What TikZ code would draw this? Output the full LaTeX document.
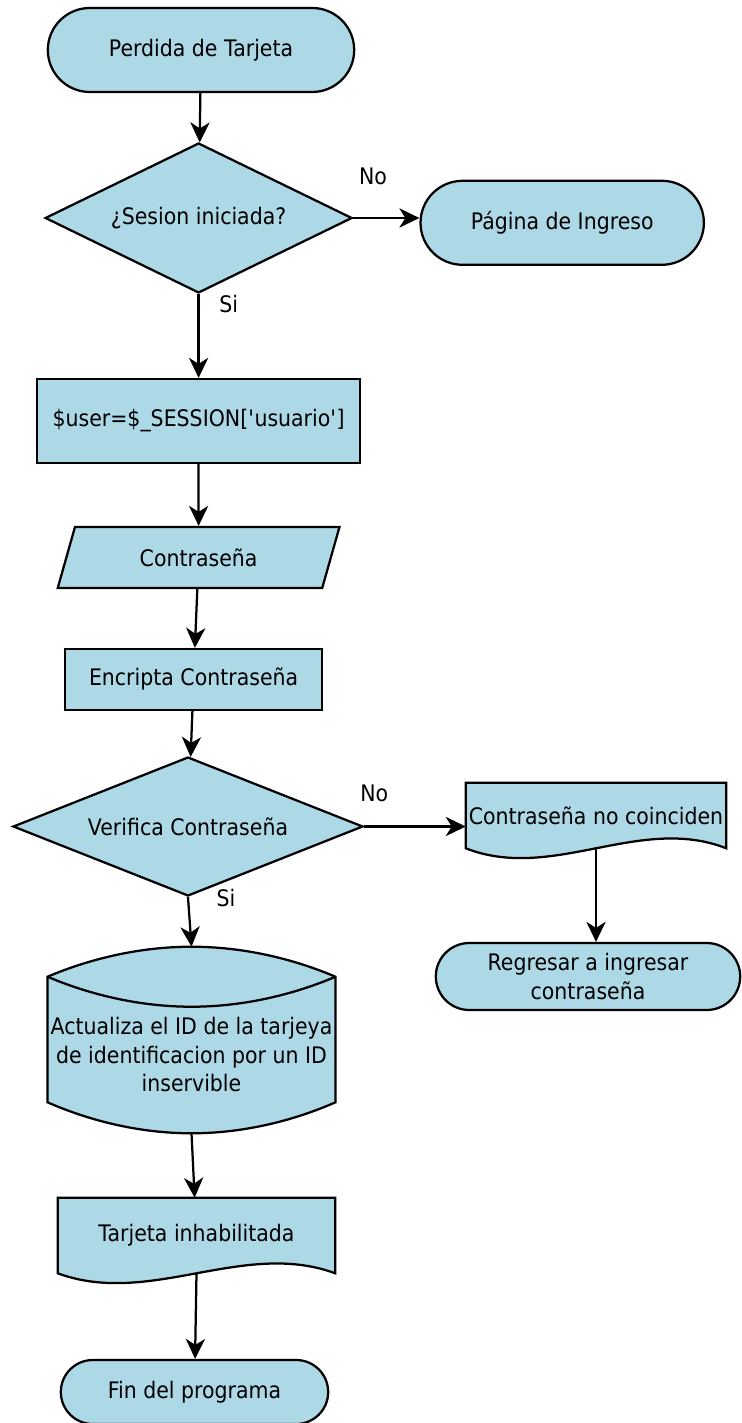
\documentclass[tikz,border=0pt]{standalone}
\usepackage{fontspec}
\setmainfont{DejaVu Sans}[FakeStretch=0.9]
\usetikzlibrary{arrows.meta,shapes.geometric,shapes.misc,backgrounds,calc}

\definecolor{boxblue}{HTML}{ADD8E6}

\tikzset{
  base/.style={draw, line width=1.6pt, fill=boxblue, align=center, inner sep=2pt},
  term/.style={base, rounded rectangle},
  decision/.style={base, diamond, aspect=2.5, inner sep=0pt},
  process/.style={base, rectangle},
  io/.style={base, trapezium, trapezium left angle=70, trapezium right angle=110,
    trapezium stretches=true},
  docbox/.style={rectangle, inner sep=2pt, align=center},
  arrowline/.style={->, line width=1.6pt}
}

% document symbol: straight top, wavy bottom
\newcommand{\docshape}[1]{%
  \begin{scope}[on background layer]
    \draw[line width=1.6pt, fill=boxblue] (#1.south west) -- (#1.north west) -- (#1.north east) -- (#1.south east)
      .. controls ($(#1.south west)!0.667!(#1.south east)+(0,0.85)$) and ($(#1.south west)!0.333!(#1.south east)+(0,-0.85)$) .. (#1.south west) -- cycle;
  \end{scope}}

% stored data symbol: lens on top, arc at the bottom
\newcommand{\diskshape}[1]{%
  \begin{scope}[on background layer]
    \draw[line width=1.6pt, fill=boxblue] ([yshift=0.75cm]#1.north west) parabola bend ([yshift=1.5cm]#1.north) ([yshift=0.75cm]#1.north east)
      -- (#1.south east) parabola bend ([yshift=-0.775cm]#1.south) (#1.south west) -- cycle;
    \draw[line width=1.6pt] ([yshift=0.75cm]#1.north west) parabola bend (#1.north) ([yshift=0.75cm]#1.north east);
  \end{scope}}

\begin{document}
\begin{tikzpicture}[>={Stealth[length=5mm,width=4.8mm,inset=1.5mm]}, font=\fontsize{16.2}{20}\selectfont]
  \useasboundingbox (0,0) rectangle (18.525,-35.575);

  \node[term, minimum width=7.8cm, minimum height=2.1cm] (start) at (5.025,-1.25) {Perdida de Tarjeta};
  \node[decision, minimum width=7.675cm, minimum height=3.75cm] (sesion) [node distance=4.2cm, below of=start, xshift=-0.06cm] {¿Sesion iniciada?};
  \node[term, minimum width=7.225cm, minimum height=2.1cm] (ingreso) [node distance=9.09cm, right of=sesion, yshift=-0.12cm] {Página de Ingreso};

  \node[process, minimum width=8.075cm, minimum height=2.1cm] (user) [node distance=5.075cm, below of=sesion] {\$user=\$\_SESSION[\textquotesingle usuario\textquotesingle]};
  \node[io, minimum width=7.05cm, minimum height=1.525cm] (pass) [node distance=3.4125cm, below of=user] {Contraseña};
  \node[process, minimum width=6.425cm, minimum height=1.525cm] (encrypt) [node distance=3.05cm, below of=pass, xshift=-0.125cm] {Encripta Contraseña};
  \node[decision, minimum width=8.75cm, minimum height=3.475cm] (verifica) [node distance=3.675cm, below of=encrypt, xshift=-0.14cm] {Verifica Contraseña};

  \node[docbox, minimum width=6.45cm, minimum height=1.625cm] (nocoinc) [node distance=10.2cm, right of=verifica, yshift=0.275cm] {Contraseña no coinciden};
  \node[term, minimum width=7.75cm, minimum height=1.675cm] (regresar) [node distance=4.025cm, below of=nocoinc, xshift=-0.2cm] {Regresar a ingresar\\contraseña};

  \node[docbox, minimum width=7.175cm, minimum height=2.375cm] (act) [node distance=5.7cm, below of=verifica, xshift=0.0875cm] {Actualiza el ID de la tarjeya\\de identificacion por un ID\\inservible};
  \node[docbox, minimum width=6.925cm, minimum height=1.875cm] (tarjeta) [node distance=4.525cm, below of=act, xshift=0.125cm] {Tarjeta inhabilitada};
  \node[term, minimum width=6.825cm, minimum height=1.6cm] (fin) [node distance=3.9125cm, below of=tarjeta, xshift=-0.05cm] {Fin del programa};

  \docshape{nocoinc}
  \docshape{tarjeta}
  \diskshape{act}
  \coordinate (acttop) at ([yshift=1.5cm]act.north);
  \coordinate (actbot) at ([yshift=-0.775cm]act.south);

  \draw[arrowline] (start) -- (sesion);
  \draw[arrowline] (sesion.east) -- node[pos=0.3, yshift=1.05cm] {No} (sesion.east -| ingreso.west);
  \draw[arrowline] (sesion.south) -- node[pos=0.12, xshift=0.75cm] {Si} (user);
  \draw[arrowline] (user) -- (pass);
  \draw[arrowline] (pass) -- (encrypt);
  \draw[arrowline] (encrypt) -- (verifica);
  \draw[arrowline] (verifica.east) -- node[pos=0.1, yshift=0.83cm] {No} (verifica.east -| nocoinc.west);
  \draw[arrowline] (nocoinc.south) -- (nocoinc.south |- regresar.north);
  \draw[arrowline] (verifica.south) -- node[pos=0.02, xshift=0.95cm] {Si} (acttop);
  \draw[arrowline] (actbot) -- (tarjeta);
  \draw[arrowline] (tarjeta.south) -- (fin);
\end{tikzpicture}
\end{document}
